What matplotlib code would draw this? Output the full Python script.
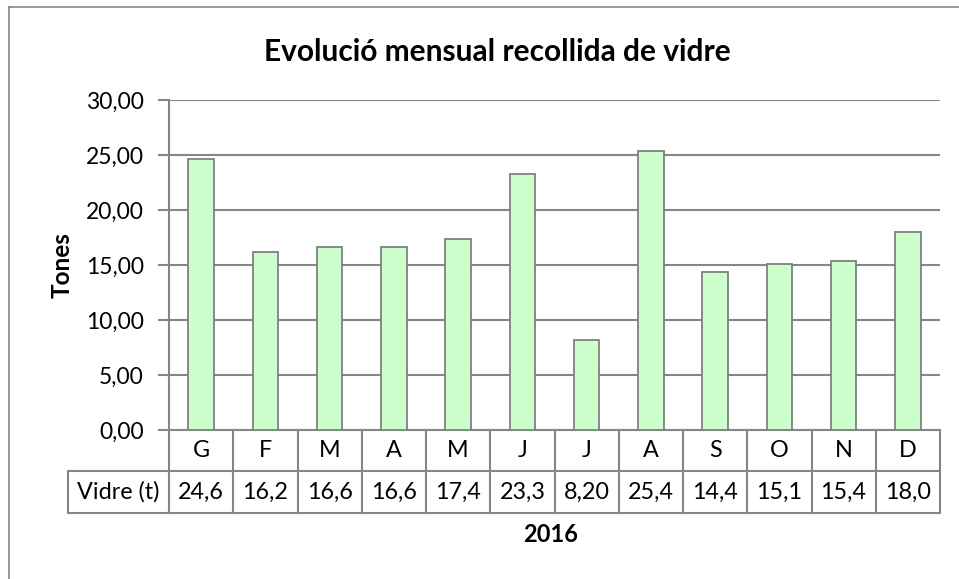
import math
import matplotlib
matplotlib.use('Agg')
import matplotlib.pyplot as plt
from matplotlib.lines import Line2D

# --- dades ---
mesos = ['G', 'F', 'M', 'A', 'M', 'J', 'J', 'A', 'S', 'O', 'N', 'D']
vidre = [24.6, 16.2, 16.6, 16.6, 17.4, 23.3, 8.20, 25.4, 14.4, 15.1, 15.4, 18.0]
serie = 'Vidre (t)'
titol = 'Evolució mensual recollida de vidre'
y_ticks = [0, 5, 10, 15, 20, 25, 30]

plt.rcParams['font.family'] = ['Lato', 'DejaVu Sans']
GRIS = '#868686'
W, H = 959, 579
FS = 16.8

def fmt3(v):
    # 3 xifres significatives, coma decimal (com Excel)
    dec = max(0, 2 - int(math.floor(math.log10(abs(v)))))
    return f"{v:.{dec}f}".replace('.', ',')

fig = plt.figure(figsize=(W / 100, H / 100), dpi=100)

# requadre exterior del grafic (nomes dalt i esquerra visibles)
fig.add_artist(Line2D([9 / W, 9 / W], [0, 1 - 7 / H], color=GRIS, lw=1.2))
fig.add_artist(Line2D([9 / W, 1], [1 - 7 / H, 1 - 7 / H], color=GRIS, lw=1.2))

ax = fig.add_axes([169 / W, (H - 430) / H, (940 - 169) / W, 330 / H])
x = list(range(len(mesos)))
ax.bar(x, vidre, width=0.4, color='#CCFFCC', edgecolor='#808080', linewidth=1.3, zorder=3)
ax.set_xlim(-0.5, len(mesos) - 0.5)
ax.set_ylim(0, 30)
ax.set_yticks(y_ticks)
ax.set_yticklabels([f"{t:.2f}".replace('.', ',') for t in y_ticks], fontsize=16.5)
ax.yaxis.grid(True, color=GRIS, lw=1.5, zorder=0)
ax.set_xticks([])
for s in ['top', 'right', 'bottom']:
    ax.spines[s].set_visible(False)
ax.spines['left'].set_color(GRIS)
ax.spines['left'].set_linewidth(1.5)
ax.tick_params(axis='y', length=8, width=1.5, color=GRIS, pad=10)

# --- taula de dades sota l'eix ---
px = 330.0  # alcada del plot en pixels
r1 = -41 / px
r2 = -83 / px
tr = ax.get_xaxis_transform()
lw_t = 1.5
n = len(mesos)
lab_left = -0.5 - 101 / (771 / n)

def hline(x0, x1, y):
    ax.add_line(Line2D([x0, x1], [y, y], transform=tr, color=GRIS, lw=lw_t, clip_on=False))

def vline(xv, y0, y1):
    ax.add_line(Line2D([xv, xv], [y0, y1], transform=tr, color=GRIS, lw=lw_t, clip_on=False))

hline(-0.5, n - 0.5, 0)
hline(lab_left, n - 0.5, r1)
hline(lab_left, n - 0.5, r2)
for i in range(n + 1):
    vline(i - 0.5, 0, r2)
vline(lab_left, r1, r2)

for i, (m, v) in enumerate(zip(mesos, vidre)):
    ax.text(i, r1 / 2, m, transform=tr, ha='center', va='center', fontsize=FS)
    ax.text(i, (r1 + r2) / 2, fmt3(v), transform=tr, ha='center', va='center', fontsize=FS)
ax.text((lab_left - 0.5) / 2, (r1 + r2) / 2, serie, transform=tr, ha='center', va='center', fontsize=FS)

fig.text(497 / W, 1 - 52 / H, titol, ha='center', va='center', fontsize=21.5, fontweight='bold')
fig.text(62 / W, 1 - 265 / H, 'Tones', ha='center', va='center', rotation=90, fontsize=17.5, fontweight='bold')
fig.text(551 / W, 1 - 535 / H, '2016', ha='center', va='center', fontsize=17, fontweight='bold')

fig.savefig('out.png', dpi=100)
